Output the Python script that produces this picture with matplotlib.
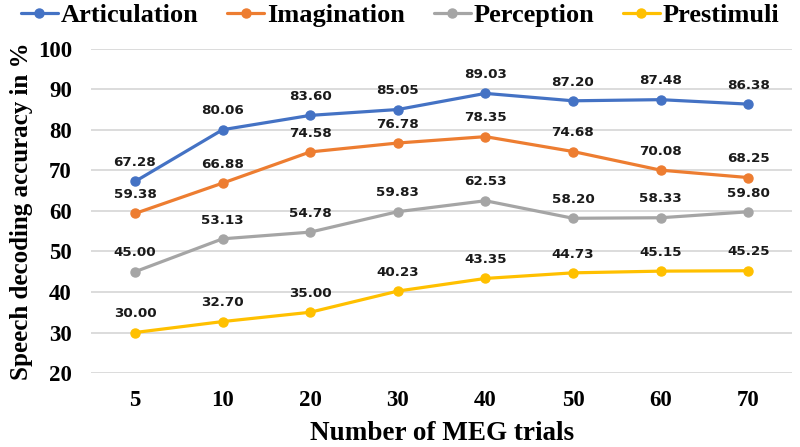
import numpy as np
import matplotlib
matplotlib.use('Agg')
import matplotlib.pyplot as plt

trials = ['5', '10', '20', '30', '40', '50', '60', '70']
articulation = [67.28, 80.06, 83.60, 85.05, 89.03, 87.20, 87.48, 86.38]
imagination = [59.38, 66.88, 74.58, 76.78, 78.35, 74.68, 70.08, 68.25]
perception = [45.00, 53.13, 54.78, 59.83, 62.53, 58.20, 58.33, 59.80]
prestimuli = [30.00, 32.70, 35.00, 40.23, 43.35, 44.73, 45.15, 45.25]

names = ['Articulation', 'Imagination', 'Perception', 'Prestimuli']
colors = ['#4472C4', '#ED7D31', '#A5A5A5', '#FFC000']
series = [articulation, imagination, perception, prestimuli]

serif = 'Liberation Serif'

fig = plt.figure(figsize=(8, 4.47), dpi=100)
ax = fig.add_axes([0.114, 0.1655, 0.876, 0.725])

x = np.arange(len(trials))
for vals, name, c in zip(series, names, colors):
    ax.plot(x, vals, color=c, lw=2.3, marker='o', ms=6.5, label=name,
            solid_capstyle='round', zorder=3)
    for xi, v in zip(x, vals):
        ax.annotate(f'{v:.2f}', (xi, v), xytext=(0, 13.5), textcoords='offset points',
                    ha='center', va='center', fontsize=9.7, fontweight='bold',
                    family='DejaVu Sans', color='#1a1a1a', zorder=4)

ax.set_xlim(-0.5, len(trials) - 0.5)
ax.set_ylim(20, 100)
ax.set_yticks(np.arange(20, 101, 10))
ax.set_xticks(x)
ax.set_xticklabels(trials)
ax.grid(axis='y', color='#D9D9D9', lw=1.3, zorder=0)
ax.set_axisbelow(True)
for s in ax.spines.values():
    s.set_visible(False)
ax.tick_params(length=0)
ax.tick_params(axis='y', pad=14)
ax.tick_params(axis='x', pad=12)
for lab in ax.get_xticklabels() + ax.get_yticklabels():
    lab.set_fontfamily(serif)
    lab.set_fontweight('bold')
    lab.set_fontsize(16.5)

ax.set_xlabel('Number of MEG trials', family=serif, fontweight='bold', fontsize=19.5, labelpad=7.5)
ax.set_ylabel('Speech decoding accuracy in %', family=serif, fontweight='bold', fontsize=18, labelpad=3)

fig.legend(loc='center', bbox_to_anchor=(0.5, 0.965), ncol=4, frameon=False,
           prop={'family': serif, 'weight': 'bold', 'size': 19},
           handlelength=1.4, handletextpad=0.1, columnspacing=1.1, borderaxespad=0)

fig.savefig('out.png', dpi=100)
